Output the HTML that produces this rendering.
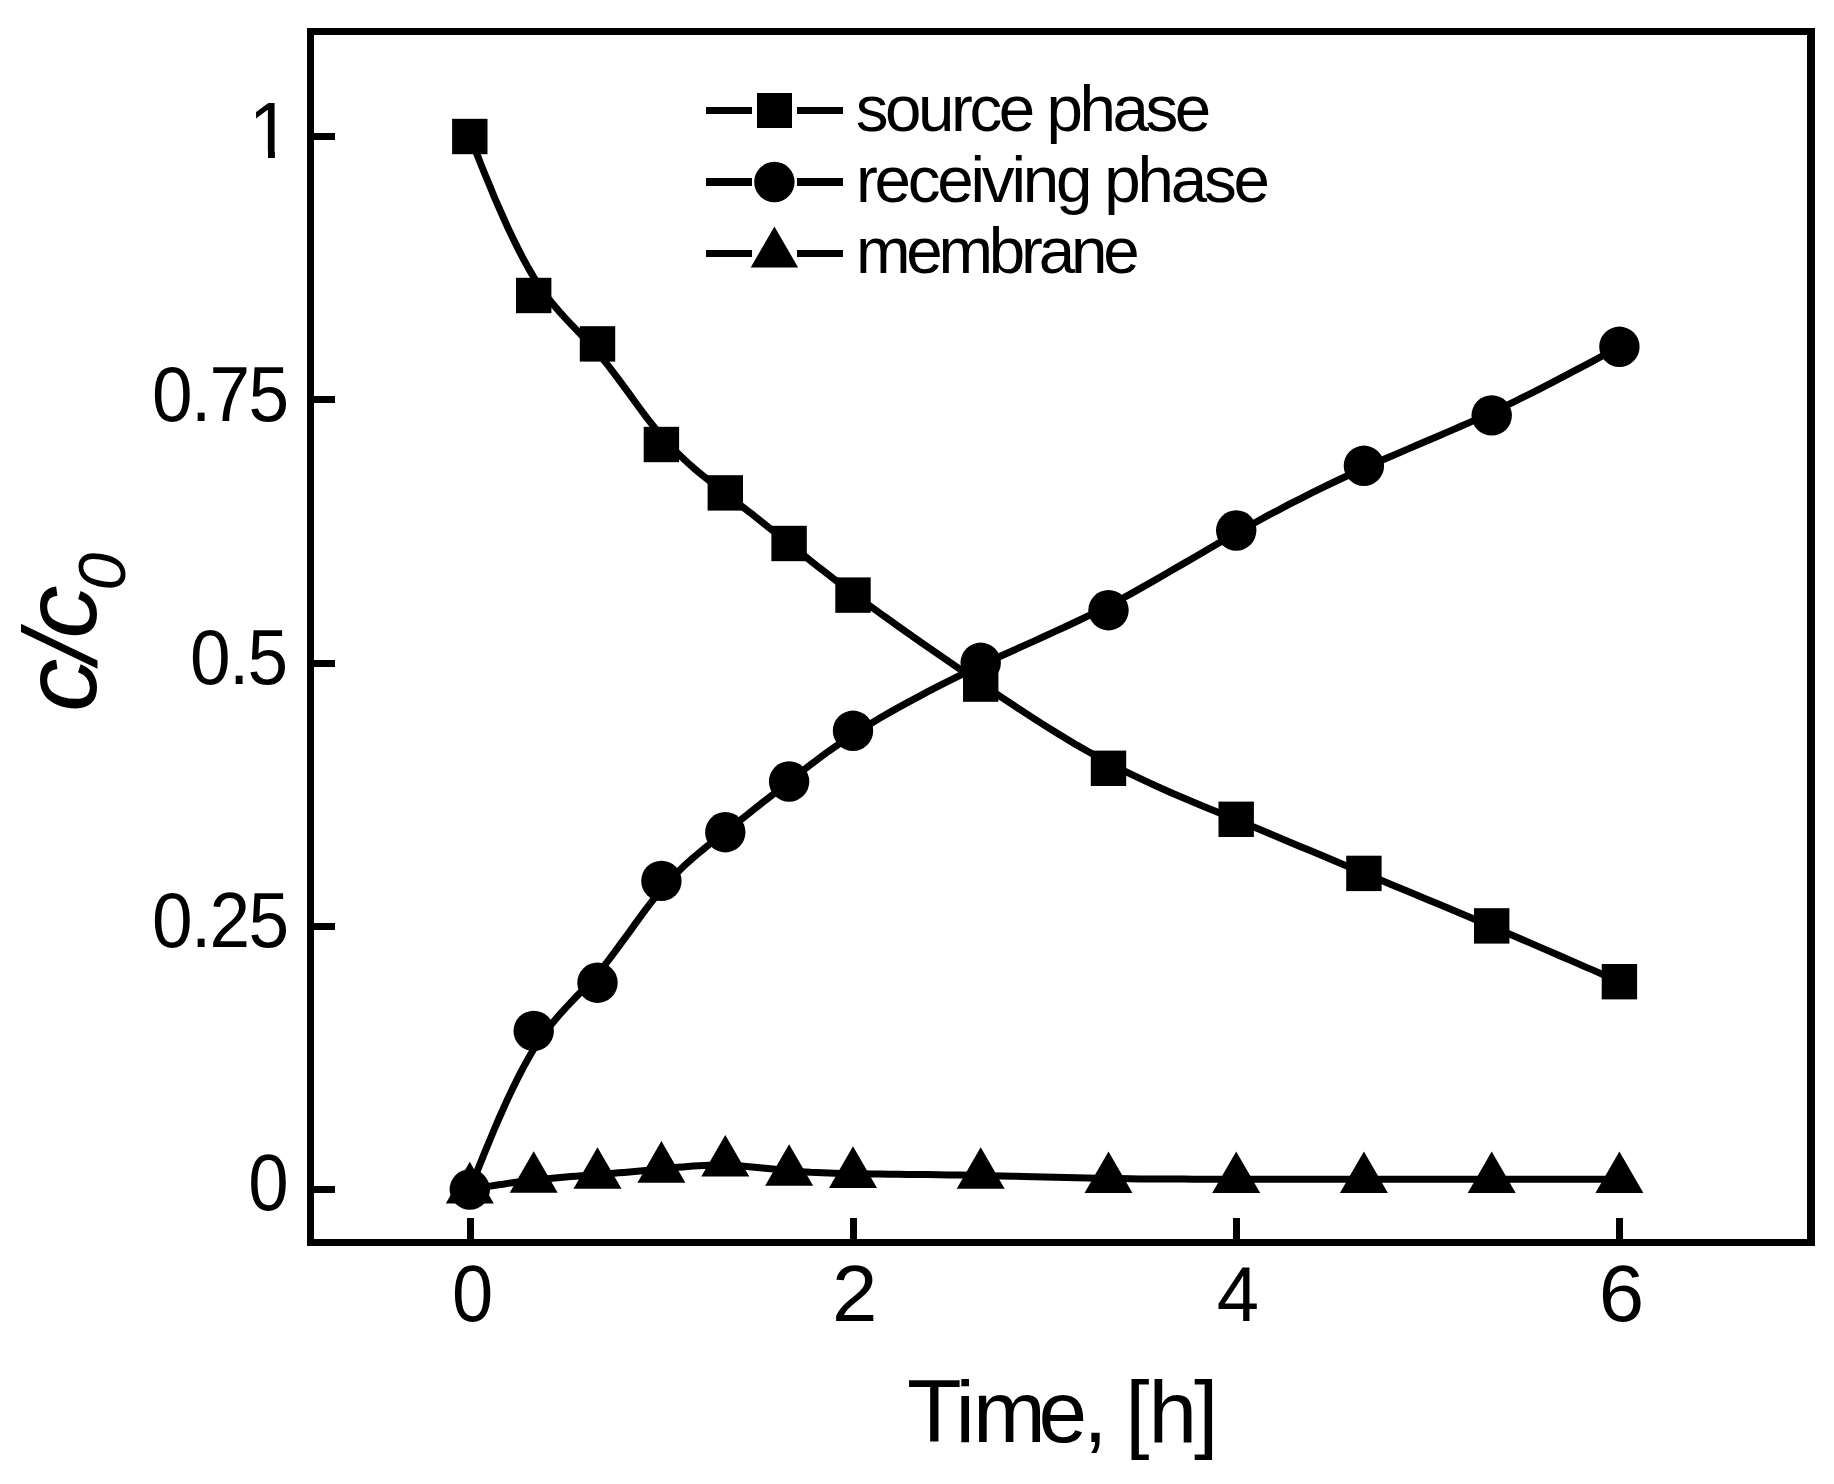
<!DOCTYPE html>
<html lang="en">
<head>
<meta charset="utf-8">
<title>c/c0 versus time</title>
<style>
html,body{margin:0;padding:0;background:#fff;}
body{width:1834px;height:1484px;overflow:hidden;}
svg{display:block;}
text{font-family:"Liberation Sans",Arial,Helvetica,sans-serif;fill:#000;}
.tickm{font-size:73px;letter-spacing:-1.67px;}
.tick1{font-size:76px;}
.leg{font-size:65.5px;}
.xt{font-size:87.4px;letter-spacing:-3.25px;}
.yt{font-size:103px;font-style:italic;}
.ysub{font-size:66px;}
</style>
</head>
<body>
<svg width="1834" height="1484" viewBox="0 0 1834 1484">
<rect x="0" y="0" width="1834" height="1484" fill="#fff"/>

<!-- plot frame -->
<g fill="#000" shape-rendering="crispEdges">
<rect x="307" y="28" width="1508" height="7"/>
<rect x="307" y="1239" width="1508" height="7"/>
<rect x="307" y="28" width="7" height="1218"/>
<rect x="1807" y="28" width="8" height="1218"/>
<!-- y ticks -->
<rect x="314" y="133" width="21" height="7"/>
<rect x="314" y="396" width="21" height="7"/>
<rect x="314" y="660" width="21" height="7"/>
<rect x="314" y="923" width="21" height="7"/>
<rect x="314" y="1186" width="21" height="7"/>
<!-- x ticks -->
<rect x="467" y="1218" width="7" height="21"/>
<rect x="850" y="1218" width="7" height="21"/>
<rect x="1233" y="1218" width="7" height="21"/>
<rect x="1616" y="1218" width="7" height="21"/>
</g>

<!-- data lines -->
<g fill="none" stroke="#000" stroke-width="7" stroke-linejoin="round">
<path d="M469.8 136.5 L469.8 136.5 L469.8 136.6 L470.0 136.9 L470.2 137.5 L470.6 138.4 L471.1 139.8 L471.9 141.8 L473.0 144.4 L474.3 147.7 L476.0 151.8 L478.0 156.9 L480.4 163.0 L483.3 170.2 L486.6 178.3 L490.3 187.1 L494.2 196.7 L498.5 206.7 L503.1 217.0 L507.8 227.5 L512.8 238.0 L517.9 248.4 L523.1 258.5 L528.4 268.1 L533.7 277.1 L539.0 285.4 L544.3 293.0 L549.6 300.0 L555.0 306.5 L560.3 312.7 L565.6 318.5 L570.9 324.1 L576.2 329.7 L581.6 335.2 L586.9 340.8 L592.2 346.6 L597.5 352.6 L602.9 359.0 L608.2 365.7 L613.5 372.6 L618.8 379.7 L624.1 386.9 L629.5 394.2 L634.8 401.5 L640.1 408.7 L645.4 415.8 L650.8 422.8 L656.1 429.4 L661.4 435.8 L666.7 441.8 L672.0 447.5 L677.4 453.0 L682.7 458.1 L688.0 463.0 L693.3 467.7 L698.7 472.2 L704.0 476.6 L709.3 480.8 L714.6 485.0 L719.9 489.2 L725.3 493.3 L730.6 497.4 L735.9 501.6 L741.2 505.7 L746.6 509.9 L751.9 514.1 L757.2 518.3 L762.5 522.5 L767.8 526.7 L773.2 530.9 L778.5 535.2 L783.8 539.4 L789.1 543.7 L794.5 547.9 L799.8 552.2 L805.3 556.6 L810.8 561.0 L816.5 565.5 L822.4 570.1 L828.5 574.8 L834.9 579.7 L841.5 584.8 L848.5 590.1 L855.9 595.6 L863.6 601.3 L871.8 607.3 L880.4 613.5 L889.4 619.9 L898.7 626.6 L908.3 633.3 L918.2 640.3 L928.3 647.3 L938.5 654.4 L949.0 661.6 L959.5 668.8 L970.1 676.0 L980.7 683.3 L991.4 690.5 L1002.0 697.6 L1012.7 704.7 L1023.3 711.7 L1034.0 718.6 L1044.6 725.4 L1055.2 732.0 L1065.9 738.5 L1076.5 744.9 L1087.2 751.0 L1097.8 757.0 L1108.5 762.8 L1119.1 768.3 L1129.8 773.6 L1140.4 778.7 L1151.0 783.7 L1161.7 788.5 L1172.3 793.2 L1183.0 797.7 L1193.6 802.2 L1204.3 806.7 L1214.9 811.1 L1225.6 815.4 L1236.2 819.8 L1246.8 824.2 L1257.5 828.6 L1268.1 833.0 L1278.8 837.5 L1289.4 841.9 L1300.1 846.4 L1310.7 850.8 L1321.4 855.3 L1332.0 859.8 L1342.6 864.2 L1353.3 868.7 L1363.9 873.1 L1374.6 877.6 L1385.2 882.0 L1395.9 886.4 L1406.5 890.8 L1417.2 895.3 L1427.8 899.7 L1438.4 904.1 L1449.1 908.6 L1459.7 913.0 L1470.4 917.5 L1481.0 922.0 L1491.7 926.5 L1502.3 931.0 L1512.9 935.5 L1523.3 940.0 L1533.5 944.4 L1543.3 948.6 L1552.9 952.7 L1562.0 956.7 L1570.5 960.4 L1578.5 963.9 L1585.8 967.1 L1592.4 969.9 L1598.1 972.4 L1603.0 974.6 L1607.1 976.4 L1610.4 977.8 L1613.1 979.0 L1615.2 979.9 L1616.7 980.6 L1617.9 981.1 L1618.6 981.4 L1619.1 981.6 L1619.3 981.7 L1619.4 981.7 L1619.4 981.7"/>
<path d="M469.8 1189.5 L469.8 1189.5 L469.8 1189.4 L470.0 1189.1 L470.2 1188.5 L470.6 1187.6 L471.1 1186.2 L471.9 1184.3 L473.0 1181.7 L474.3 1178.3 L476.0 1174.2 L478.0 1169.1 L480.4 1163.1 L483.3 1155.9 L486.6 1147.9 L490.3 1139.0 L494.2 1129.5 L498.5 1119.5 L503.1 1109.2 L507.8 1098.7 L512.8 1088.2 L517.9 1077.9 L523.1 1067.9 L528.4 1058.3 L533.7 1049.3 L539.0 1041.1 L544.3 1033.5 L549.6 1026.5 L555.0 1020.0 L560.3 1013.8 L565.6 1008.0 L570.9 1002.3 L576.2 996.8 L581.6 991.3 L586.9 985.6 L592.2 979.8 L597.5 973.8 L602.9 967.3 L608.2 960.6 L613.5 953.6 L618.8 946.4 L624.1 939.1 L629.5 931.8 L634.8 924.4 L640.1 917.1 L645.4 909.9 L650.8 902.9 L656.1 896.2 L661.4 889.7 L666.7 883.6 L672.0 877.9 L677.4 872.4 L682.7 867.3 L688.0 862.3 L693.3 857.6 L698.7 853.1 L704.0 848.7 L709.3 844.4 L714.6 840.2 L719.9 836.0 L725.3 831.9 L730.6 827.7 L735.9 823.6 L741.2 819.4 L746.6 815.2 L751.9 811.0 L757.2 806.8 L762.5 802.6 L767.8 798.4 L773.2 794.2 L778.5 789.9 L783.8 785.7 L789.1 781.5 L794.5 777.3 L799.8 773.0 L805.3 768.8 L810.8 764.5 L816.5 760.2 L822.4 755.8 L828.5 751.3 L834.9 746.8 L841.5 742.3 L848.5 737.6 L855.9 732.8 L863.6 727.9 L871.8 722.9 L880.4 717.8 L889.4 712.6 L898.7 707.4 L908.3 702.1 L918.2 696.8 L928.3 691.4 L938.5 686.1 L949.0 680.8 L959.5 675.6 L970.1 670.4 L980.7 665.4 L991.4 660.4 L1002.0 655.5 L1012.7 650.7 L1023.3 645.9 L1034.0 641.1 L1044.6 636.3 L1055.2 631.4 L1065.9 626.5 L1076.5 621.5 L1087.2 616.4 L1097.8 611.1 L1108.5 605.7 L1119.1 600.1 L1129.8 594.4 L1140.4 588.4 L1151.0 582.4 L1161.7 576.3 L1172.3 570.1 L1183.0 563.9 L1193.6 557.7 L1204.3 551.4 L1214.9 545.2 L1225.6 539.1 L1236.2 533.0 L1246.8 527.1 L1257.5 521.2 L1268.1 515.4 L1278.8 509.8 L1289.4 504.2 L1300.1 498.8 L1310.7 493.4 L1321.4 488.2 L1332.0 483.0 L1342.6 478.0 L1353.3 473.0 L1363.9 468.2 L1374.6 463.4 L1385.2 458.8 L1395.9 454.2 L1406.5 449.6 L1417.2 445.1 L1427.8 440.5 L1438.4 436.0 L1449.1 431.4 L1459.7 426.8 L1470.4 422.1 L1481.0 417.3 L1491.7 412.4 L1502.3 407.4 L1512.9 402.3 L1523.3 397.2 L1533.5 392.1 L1543.3 387.1 L1552.9 382.2 L1562.0 377.4 L1570.5 372.9 L1578.5 368.7 L1585.8 364.8 L1592.4 361.3 L1598.1 358.2 L1603.0 355.6 L1607.1 353.4 L1610.4 351.6 L1613.1 350.2 L1615.2 349.1 L1616.7 348.2 L1617.9 347.6 L1618.6 347.2 L1619.1 347.0 L1619.3 346.8 L1619.4 346.8 L1619.4 346.8"/>
<path d="M469.8 1189.5 L469.8 1189.5 L469.8 1189.5 L470.0 1189.5 L470.2 1189.4 L470.6 1189.4 L471.1 1189.3 L471.9 1189.2 L473.0 1189.0 L474.3 1188.8 L476.0 1188.5 L478.0 1188.1 L480.4 1187.7 L483.3 1187.3 L486.6 1186.7 L490.3 1186.1 L494.2 1185.5 L498.5 1184.8 L503.1 1184.2 L507.8 1183.4 L512.8 1182.7 L517.9 1182.0 L523.1 1181.3 L528.4 1180.7 L533.7 1180.1 L539.0 1179.5 L544.3 1178.9 L549.6 1178.4 L555.0 1177.9 L560.3 1177.5 L565.6 1177.1 L570.9 1176.6 L576.2 1176.2 L581.6 1175.8 L586.9 1175.4 L592.2 1175.0 L597.5 1174.6 L602.9 1174.2 L608.2 1173.7 L613.5 1173.3 L618.8 1172.8 L624.1 1172.4 L629.5 1171.9 L634.8 1171.4 L640.1 1170.9 L645.4 1170.4 L650.8 1169.9 L656.1 1169.4 L661.4 1168.8 L666.7 1168.3 L672.0 1167.8 L677.4 1167.3 L682.7 1166.9 L688.0 1166.5 L693.3 1166.1 L698.7 1165.7 L704.0 1165.5 L709.3 1165.3 L714.6 1165.2 L719.9 1165.2 L725.3 1165.2 L730.6 1165.4 L735.9 1165.7 L741.2 1166.0 L746.6 1166.5 L751.9 1166.9 L757.2 1167.5 L762.5 1168.0 L767.8 1168.6 L773.2 1169.1 L778.5 1169.7 L783.8 1170.2 L789.1 1170.7 L794.5 1171.2 L799.8 1171.6 L805.3 1171.9 L810.8 1172.3 L816.5 1172.5 L822.4 1172.8 L828.5 1173.0 L834.9 1173.2 L841.5 1173.4 L848.5 1173.5 L855.9 1173.7 L863.6 1173.8 L871.8 1173.9 L880.4 1174.0 L889.4 1174.2 L898.7 1174.3 L908.3 1174.4 L918.2 1174.5 L928.3 1174.6 L938.5 1174.7 L949.0 1174.9 L959.5 1175.1 L970.1 1175.2 L980.7 1175.4 L991.4 1175.7 L1002.0 1175.9 L1012.7 1176.2 L1023.3 1176.4 L1034.0 1176.7 L1044.6 1177.0 L1055.2 1177.3 L1065.9 1177.5 L1076.5 1177.8 L1087.2 1178.0 L1097.8 1178.3 L1108.5 1178.5 L1119.1 1178.6 L1129.8 1178.8 L1140.4 1178.9 L1151.0 1179.0 L1161.7 1179.0 L1172.3 1179.1 L1183.0 1179.1 L1193.6 1179.2 L1204.3 1179.2 L1214.9 1179.2 L1225.6 1179.2 L1236.2 1179.2 L1246.8 1179.2 L1257.5 1179.2 L1268.1 1179.2 L1278.8 1179.2 L1289.4 1179.2 L1300.1 1179.2 L1310.7 1179.2 L1321.4 1179.2 L1332.0 1179.2 L1342.6 1179.2 L1353.3 1179.2 L1363.9 1179.2 L1374.6 1179.2 L1385.2 1179.2 L1395.9 1179.2 L1406.5 1179.2 L1417.2 1179.2 L1427.8 1179.2 L1438.4 1179.2 L1449.1 1179.2 L1459.7 1179.2 L1470.4 1179.2 L1481.0 1179.2 L1491.7 1179.2 L1502.3 1179.2 L1512.9 1179.2 L1523.3 1179.2 L1533.5 1179.2 L1543.3 1179.2 L1552.9 1179.2 L1562.0 1179.2 L1570.5 1179.2 L1578.5 1179.2 L1585.8 1179.2 L1592.4 1179.2 L1598.1 1179.2 L1603.0 1179.2 L1607.1 1179.2 L1610.4 1179.2 L1613.1 1179.2 L1615.2 1179.2 L1616.7 1179.2 L1617.9 1179.2 L1618.6 1179.2 L1619.1 1179.2 L1619.3 1179.2 L1619.4 1179.2 L1619.4 1179.2"/>
</g>

<!-- markers -->
<g fill="#000">
<rect x="452.1" y="118.8" width="35.4" height="35.4"/>
<rect x="516.0" y="277.8" width="35.4" height="35.4"/>
<rect x="579.8" y="326.2" width="35.4" height="35.4"/>
<rect x="643.7" y="426.8" width="35.4" height="35.4"/>
<rect x="707.6" y="475.2" width="35.4" height="35.4"/>
<rect x="771.4" y="525.8" width="35.4" height="35.4"/>
<rect x="835.3" y="577.4" width="35.4" height="35.4"/>
<rect x="963.0" y="666.4" width="35.4" height="35.4"/>
<rect x="1090.8" y="750.6" width="35.4" height="35.4"/>
<rect x="1218.5" y="801.6" width="35.4" height="35.4"/>
<rect x="1346.2" y="855.7" width="35.4" height="35.4"/>
<rect x="1474.0" y="908.2" width="35.4" height="35.4"/>
<rect x="1601.7" y="964.0" width="35.4" height="35.4"/>
<circle cx="469.8" cy="1189.5" r="20.2"/>
<circle cx="533.7" cy="1030.9" r="20.2"/>
<circle cx="597.5" cy="982.7" r="20.2"/>
<circle cx="661.4" cy="880.9" r="20.2"/>
<circle cx="725.3" cy="832.2" r="20.2"/>
<circle cx="789.1" cy="781.5" r="20.2"/>
<circle cx="853.0" cy="730.8" r="20.2"/>
<circle cx="980.7" cy="662.8" r="20.2"/>
<circle cx="1108.5" cy="610.2" r="20.2"/>
<circle cx="1236.2" cy="530.5" r="20.2"/>
<circle cx="1363.9" cy="465.8" r="20.2"/>
<circle cx="1491.7" cy="415.4" r="20.2"/>
<circle cx="1619.4" cy="346.8" r="20.2"/>
<polygon points="469.8,1161.8 445.8,1203.4 493.8,1203.4"/>
<polygon points="533.7,1151.3 509.7,1192.8 557.7,1192.8"/>
<polygon points="597.5,1147.3 573.5,1188.8 621.5,1188.8"/>
<polygon points="661.4,1141.1 637.4,1182.7 685.4,1182.7"/>
<polygon points="725.3,1134.9 701.3,1176.5 749.3,1176.5"/>
<polygon points="789.1,1144.2 765.1,1185.8 813.1,1185.8"/>
<polygon points="853.0,1146.3 829.0,1187.9 877.0,1187.9"/>
<polygon points="980.7,1147.2 956.7,1188.7 1004.7,1188.7"/>
<polygon points="1108.5,1151.5 1084.5,1193.0 1132.5,1193.0"/>
<polygon points="1236.2,1151.5 1212.2,1193.0 1260.2,1193.0"/>
<polygon points="1363.9,1151.5 1339.9,1193.0 1387.9,1193.0"/>
<polygon points="1491.7,1151.5 1467.7,1193.0 1515.7,1193.0"/>
<polygon points="1619.4,1151.5 1595.4,1193.0 1643.4,1193.0"/>
</g>

<!-- legend -->
<g fill="#000" shape-rendering="crispEdges">
<rect x="706" y="107" width="46" height="7.4"/>
<rect x="797" y="107" width="46" height="7.4"/>
<rect x="706" y="178.3" width="46" height="7.4"/>
<rect x="797" y="178.3" width="46" height="7.4"/>
<rect x="706" y="250" width="46" height="7.4"/>
<rect x="797" y="250" width="46" height="7.4"/>
<rect x="757" y="93" width="35" height="35"/>
</g>
<circle cx="774.4" cy="182" r="20.2" fill="#000"/>
<g fill="#000"><polygon points="774.4,226.4 750.7,267.5 798.1,267.5"/></g>
<text class="leg" x="855.8" y="130.8" style="letter-spacing:-3.44px">source phase</text>
<text class="leg" x="855.9" y="201.8" style="letter-spacing:-3.2px">receiving phase</text>
<text class="leg" x="855.9" y="272.8" style="letter-spacing:-4.2px">membrane</text>

<!-- y tick labels -->
<clipPath id="c1"><polygon points="240,90 300,90 300,151 274.9,151 274.9,165 268,165 268,151 240,151"/></clipPath>
<g clip-path="url(#c1)"><text class="tick1" transform="translate(248.7,157.9) scale(1,1.05)">1</text></g>
<text class="tickm" transform="translate(152.05,421) scale(1,1.075)">0.75</text>
<text class="tickm" transform="translate(190.05,683.9) scale(1,1.075)">0.5</text>
<text class="tickm" transform="translate(152.05,947) scale(1,1.075)">0.25</text>
<text class="tick1" transform="translate(268.5,1210.3) scale(0.955,1.045)" text-anchor="middle">0</text>

<!-- x tick labels -->
<text class="tick1" transform="translate(472.6,1321.2) scale(0.975,1.045)" text-anchor="middle">0</text>
<text class="tick1" transform="translate(854.6,1321.1) scale(1.075,1.045)" text-anchor="middle">2</text>
<text class="tick1" transform="translate(1237.95,1320.9) scale(1,1.03)" text-anchor="middle">4</text>
<text class="tick1" transform="translate(1621.55,1321.3) scale(1.075,1.05)" text-anchor="middle">6</text>

<!-- axis titles -->
<text class="xt" x="907" y="1441.9"><tspan font-size="89.5">T</tspan><tspan dx="-3.0">i</tspan><tspan dx="1.4">m</tspan><tspan dx="-4.1">e</tspan><tspan dx="-0.5">,</tspan> [<tspan dx="2.2">h</tspan>]</text>
<g transform="translate(96,712) rotate(-90)">
<text class="yt" transform="scale(1.04,1)">c<tspan dx="-4.1">/</tspan><tspan dx="-5.6">c</tspan><tspan class="ysub" dx="-5.4" dy="29">0</tspan></text>
</g>
</svg>
</body>
</html>
